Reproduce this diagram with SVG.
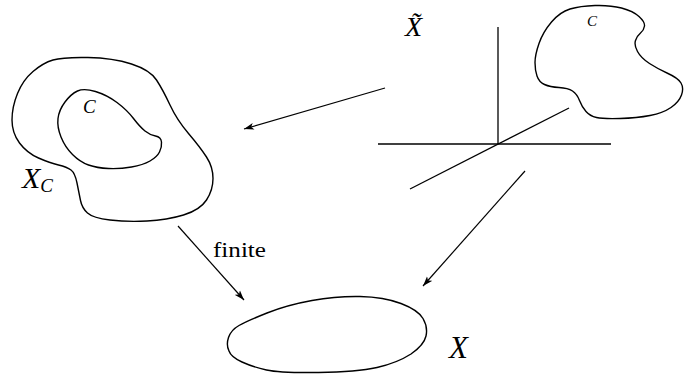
<svg xmlns="http://www.w3.org/2000/svg" width="684" height="386" viewBox="0 0 684 386" font-family="Liberation Serif, serif">
<style>
.blob{fill:none;stroke:#000;stroke-width:1.4;stroke-linejoin:round}
.ln{fill:none;stroke:#000;stroke-width:1.3}
.ar{fill:none;stroke:#000;stroke-width:1.2;marker-end:url(#ah)}
</style>
<defs>
<marker id="ah" markerUnits="userSpaceOnUse" markerWidth="12" markerHeight="8" refX="10" refY="4" orient="auto">
<path d="M0,0.6 L10,4 L0,7.4 L2.5,4 Z" fill="#000"/>
</marker>
</defs>
<rect width="684" height="386" fill="#fff"/>
<g id="XC">
<path class="blob" d="M53,60 Q63,57 88,57.5 Q113,58 131.5,64 Q150,70 156.5,80 Q163,90 170,105 Q177,120 188.5,133.5 Q200,147 206.5,157 Q213,167 213,178.5 Q213,190 206.5,200 Q200,210 183.5,215 Q167,220 147,221 Q127,222 110,220 Q93,218 87.5,213 Q82,208 80.5,200.5 Q79,193 77,183 Q75,173 71,170 Q67,167 58.5,165 Q50,163 38.5,158 Q27,153 19.5,143 Q12,133 12,120 Q12,107 17.5,93.5 Q23,80 33,71.5 Q43,63 53,60 Z"/>
<text font-family="Liberation Serif" font-style="italic" x="22" y="188" font-size="30">X<tspan font-size="19" dy="4">C</tspan></text>
</g>
<g id="C-inner">
<path class="blob" d="M61,137 Q57,127 58,118.5 Q59,110 65,102 Q71,94 77.5,91 Q84,88 95.5,91.5 Q107,95 117,102.5 Q127,110 133.5,118.5 Q140,127 145,131 Q150,135 155.5,136 Q161,137 161.5,142 Q162,147 159.5,152 Q157,157 150,161 Q143,165 131.5,167 Q120,169 108.5,168.5 Q97,168 88.5,165 Q80,162 72.5,154.5 Q65,147 61,137 Z"/>
<text font-family="Liberation Serif" font-style="italic" x="83" y="113" font-size="19">C</text>
</g>
<g id="Xtilde">
<line class="ln" x1="498" y1="27" x2="498" y2="144"/>
<line class="ln" x1="378" y1="144" x2="611" y2="144"/>
<line class="ln" x1="410" y1="189" x2="569" y2="108"/>
<text font-family="Liberation Serif" font-style="italic" x="405" y="36" font-size="28">X&#x303;</text>
</g>
<g id="C-exc">
<path class="blob" d="M551.5,22 Q560,12 570,9 Q580,6 595,5.5 Q610,5 621.5,8 Q633,11 639,16.5 Q645,22 644.5,26 Q644,30 640.5,33 Q637,36 635.5,40.5 Q634,45 637.5,51.5 Q641,58 649.5,63.5 Q658,69 668,73.5 Q678,78 681,83 Q684,88 681.5,95 Q679,102 671,107.5 Q663,113 650,115.5 Q637,118 620,118.5 Q603,119 596.5,117.5 Q590,116 586,111.5 Q582,107 579.5,100.5 Q577,94 572.5,91 Q568,88 559,87.5 Q550,87 544.5,84.5 Q539,82 537,76 Q535,70 535,62.5 Q535,55 539,43.5 Q543,32 551.5,22 Z"/>
<text font-family="Liberation Serif" font-style="italic" x="587" y="26" font-size="15">C</text>
</g>
<g id="X">
<path class="blob" d="M229,351 Q226,345 228.5,337.5 Q231,330 239,325.5 Q247,321 267,313 Q287,305 312,300.5 Q337,296 360,296.5 Q384,297 401,303.5 Q418,310 423,318.5 Q428,327 426,336 Q424,345 411,354 Q397,363 377,367.5 Q357,372 318.5,372.5 Q280,373 266.5,370 Q253,367 242,362 Q231,357 229,351 Z"/>
<text font-family="Liberation Serif" font-style="italic" x="449" y="358" font-size="31">X</text>
</g>
<g id="connectors">
<line class="ar" x1="385" y1="88" x2="244" y2="129"/>
<line class="ar" x1="525" y1="171" x2="423" y2="286"/>
<line class="ar" x1="178" y1="226" x2="244" y2="300"/>
<text font-family="Liberation Serif" x="213" y="257" font-size="21" textLength="53" lengthAdjust="spacingAndGlyphs">finite</text>
</g>
</svg>
